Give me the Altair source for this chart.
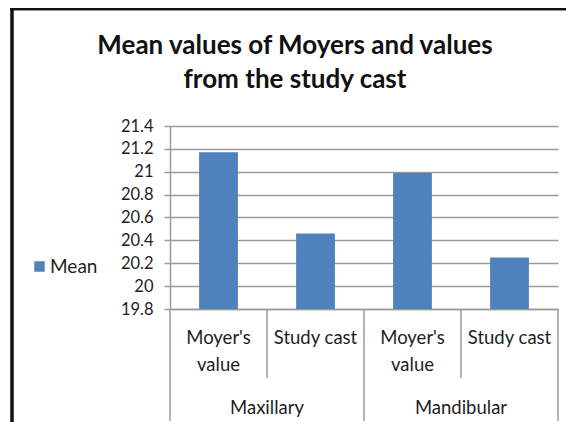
import altair as alt
import pandas as pd

groups = ["Maxillary", "Maxillary", "Mandibular", "Mandibular"]
line1 = ["Moyer's", "Study cast", "Moyer's", "Study cast"]
line2 = ["value", "", "value", ""]
values = [21.17, 20.46, 20.99, 20.25]
series = ["Mean"] * 4
group_names = ["Maxillary", "Mandibular"]
y_ticks = [19.8, 20.0, 20.2, 20.4, 20.6, 20.8, 21.0, 21.2, 21.4]
title_lines = ["Mean values of Moyers and values", "from the study cast"]

FONT = "Lato"
GRID = "#9a9a9a"
TXT = "#1e1e1e"
BAR = "#4f81bd"

bars_df = pd.DataFrame({"i": range(4), "group": groups, "line1": line1,
                        "line2": line2, "value": values, "series": series})
grp_df = pd.DataFrame({"g": range(2), "name": group_names})
sep_df = pd.DataFrame({"b": [0, 1, 2, 3, 4], "kind": ["outer", "inner", "outer", "inner", "outer"]})
title_df = pd.DataFrame({"k": range(2), "t": title_lines})

xscale = alt.Scale(domain=[0, 4], nice=False, zero=False)
yscale = alt.Scale(domain=[19.8, 21.4], nice=False, zero=False)

base = alt.Chart(bars_df)

bars = base.transform_calculate(
    x0="datum.i + 0.3", x1="datum.i + 0.7"
).mark_bar(stroke=None).encode(
    x=alt.X("x0:Q", scale=xscale,
            axis=alt.Axis(title=None, labels=False, ticks=False, grid=False,
                          domainColor=GRID, domainWidth=1.5)),
    x2="x1:Q",
    y=alt.Y("value:Q", scale=yscale,
            axis=alt.Axis(title=None, values=y_ticks, format="~g",
                          labelFont=FONT, labelFontSize=16.5, labelColor=TXT,
                          labelPadding=11, tickSize=6, tickColor=GRID, tickWidth=1.5,
                          domainColor=GRID, domainWidth=1.5,
                          gridColor=GRID, gridWidth=1.5)),
    y2=alt.datum(19.8),
    color=alt.Color("series:N", scale=alt.Scale(range=[BAR]),
                    legend=alt.Legend(title=None, orient="none", legendX=-140, legendY=131,
                                      symbolType="square", symbolSize=110,
                                      symbolStrokeWidth=0,
                                      labelFont=FONT, labelFontSize=19, labelColor=TXT,
                                      labelOffset=1)),
)

lab1 = base.transform_calculate(xc="datum.i + 0.5").mark_text(
    font=FONT, fontSize=18.5, color=TXT, baseline="middle"
).encode(x=alt.X("xc:Q", scale=xscale), y=alt.value(212), text="line1:N")

lab2 = base.transform_calculate(xc="datum.i + 0.5").mark_text(
    font=FONT, fontSize=18.5, color=TXT, baseline="middle"
).encode(x=alt.X("xc:Q", scale=xscale), y=alt.value(239), text="line2:N")

glab = alt.Chart(grp_df).transform_calculate(xc="datum.g * 2 + 1").mark_text(
    font=FONT, fontSize=18.5, color=TXT, baseline="middle"
).encode(x=alt.X("xc:Q", scale=xscale), y=alt.value(282), text="name:N")

seps_outer = alt.Chart(sep_df).transform_filter("datum.kind == 'outer'").mark_rule(
    color=GRID, strokeWidth=1.5
).encode(x=alt.X("b:Q", scale=xscale), y=alt.value(183), y2=alt.value(295))

seps_inner = alt.Chart(sep_df).transform_filter("datum.kind == 'inner'").mark_rule(
    color=GRID, strokeWidth=1.5
).encode(x=alt.X("b:Q", scale=xscale), y=alt.value(183), y2=alt.value(252))

def title_line(k, ypos):
    return alt.Chart(title_df).transform_filter(f"datum.k == {k}").mark_text(
        font=FONT, fontSize=26, fontWeight="bold", color="#111",
        baseline="middle", align="center"
    ).encode(x=alt.value(125), y=alt.value(ypos), text="t:N")

title1 = title_line(0, -80)
title2 = title_line(1, -46)

frame_left = alt.Chart(grp_df).mark_rule(color="#111", strokeWidth=3).encode(
    x=alt.value(-158), y=alt.value(-118), y2=alt.value(300))
frame_top = alt.Chart(grp_df).mark_rule(color="#111", strokeWidth=2.5).encode(
    x=alt.value(-160), x2=alt.value(400), y=alt.value(-117))

chart = alt.layer(
    bars, seps_outer, seps_inner, lab1, lab2, glab, title1, title2, frame_left, frame_top
).properties(
    width=388, height=183,
    autosize=alt.AutoSizeParams(type="none"),
    padding={"left": 162, "top": 118, "right": 8, "bottom": 113},
).configure_view(stroke=None).configure_axis(gridDash=[])

chart.save("out.html", embed_options={"renderer": "svg", "actions": False})
